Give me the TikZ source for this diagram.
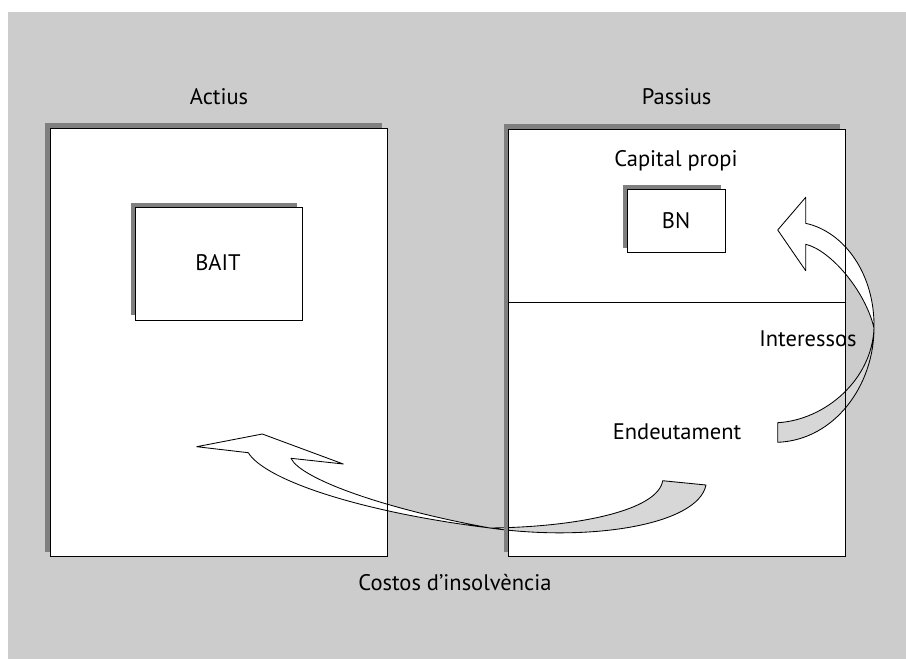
\documentclass[tikz,border=0pt]{standalone}
\usepackage{fontspec}
\setmainfont{PT Sans}
\definecolor{bggray}{HTML}{CCCCCC}
\definecolor{shadowgray}{HTML}{7F7F7F}
\definecolor{ribbongray}{HTML}{D7D7D7}
\begin{document}
\begin{tikzpicture}[x=1pt,y=-1pt,
  lbl/.style={font=\fontsize{22.5}{26}\selectfont, anchor=base, inner sep=0pt},
  boxfill/.style={fill=white, anchor=north west, inner sep=0pt, outer sep=0pt},
  boxline/.style={draw=black, line width=1pt},
  arrowline/.style={draw=black, line width=0.85pt, line join=round},
  shadowfill/.style={fill=shadowgray}]
\useasboundingbox (0,0) rectangle (906,659);
\fill[bggray] (8,12) rectangle (906,659);

% big boxes (fills)
\node[boxfill, minimum width=337pt, minimum height=428.5pt] (actius) at (50,128) {};
\node[boxfill, minimum width=336.5pt, minimum height=427.5pt] (passius) at (508.5,129) {};

% small boxes with shadows
\node[shadowfill, anchor=north west, inner sep=0pt, minimum width=166.3pt, minimum height=112.7pt] (baitsh) at (130.7,202.3) {};
\node[boxfill, draw=black, line width=1pt, minimum width=166.3pt, minimum height=112.7pt] (bait) at (135.7,207.3) {};
\node[shadowfill, anchor=north west, inner sep=0pt, minimum width=98.4pt, minimum height=63.4pt] (bnsh) at (622.3,184.3) {};
\node[boxfill, draw=black, line width=1pt, minimum width=98.4pt, minimum height=63.4pt] (bn) at (627.3,189.3) {};

% divider in Passius
\coordinate (divl) at (508.5,302);
\coordinate (divr) at (845,302);
\draw[boxline] (divl) -- (divr);

% Arrow 1 (Interessos): white part with head
\filldraw[arrowline, fill=white]
  (805.7,244.3) -- (805.7,270.7) -- (777.7,230) -- (805.7,197.3) -- (805.7,223.3)
  .. controls (845,232) and (875,275) .. (874,328)
  .. controls (865,290) and (830,250) .. (805.7,244.3) -- cycle;
% Arrow 1: grey twisted tail
\filldraw[arrowline, fill=ribbongray]
  (874,328) .. controls (874,385) and (835,440) .. (777.7,442.3)
  -- (777.7,422.7) .. controls (825,420) and (872,380) .. (874,328) -- cycle;

% Arrow 2 (Costos d'insolvencia): white part with head
\filldraw[arrowline, fill=white]
  (490,528) .. controls (360,512) and (265,480) .. (248.3,452.7)
  -- (196.7,446.7) -- (262.3,434) -- (343.3,464) -- (291,458.3)
  .. controls (300,478) and (380,508) .. (490,528) -- cycle;
% Arrow 2: grey twisted tail
\filldraw[arrowline, fill=ribbongray]
  (490,528) .. controls (580,527) and (658,510) .. (662.7,480.7)
  -- (706,485) .. controls (698,525) and (590,542) .. (490,528) -- cycle;

% shadows of big boxes (L strips)
\fill[shadowgray] ([shift={(-5,-5)}]actius.north west) rectangle ([shift={(-5,0)}]actius.north east);
\fill[shadowgray] ([shift={(-5,0)}]actius.north west) rectangle ([shift={(0,-5)}]actius.south west);
\fill[shadowgray] ([shift={(-5,-5)}]passius.north west) rectangle ([shift={(-5,0)}]passius.north east);
\fill[shadowgray] ([shift={(-5,0)}]passius.north west) rectangle ([shift={(0,-5)}]passius.south west);

% big box borders
\draw[boxline] (actius.north west) rectangle (actius.south east);
\draw[boxline] (passius.north west) rectangle (passius.south east);

% labels
\node[lbl] (tactius) at (219,104) {Actius};
\node[lbl] (tpassius) at (676.7,104) {Passius};
\node[lbl] (tcapital) at (676,166.5) {Capital propi};
\node[lbl] (tbait) at (218,270.7) {BAIT};
\node[lbl] (tbn) at (676,228.3) {BN};
\node[lbl] (tint) at (808,346.7) {Interessos};
\node[lbl] (tendeu) at (677,439.5) {Endeutament};
\node[lbl] (tcostos) at (455,590) {Costos d’insolvència};
\end{tikzpicture}
\end{document}
